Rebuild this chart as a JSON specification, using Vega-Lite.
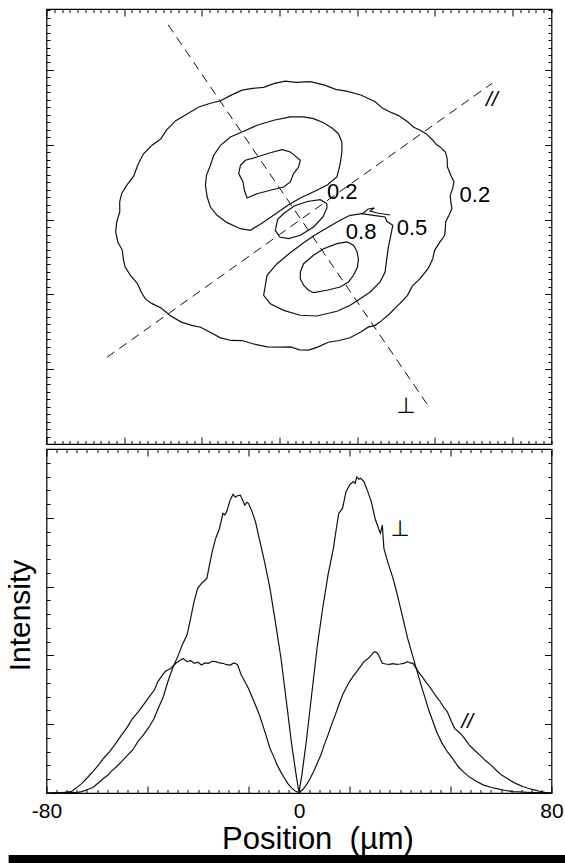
{
  "$schema": "https://vega.github.io/schema/vega-lite/v6.json",
  "padding": {"left": 4.5, "top": 7, "right": 0, "bottom": 0},
  "spacing": 1,
  "config": {
    "view": {"stroke": "black", "strokeWidth": 1.2},
    "font": "Liberation Sans",
    "axis": {"domain": false, "grid": false, "tickColor": "black", "tickWidth": 1, "labelColor": "black", "titleColor": "black", "titleFontWeight": "normal", "labelFont": "Liberation Sans", "titleFont": "Liberation Sans"}
  },
  "datasets": {
    "contours": [
      {"c":"outer","i":0,"X":321.1,"Y":483.4},{"c":"outer","i":1,"X":339.6,"Y":484.5},{"c":"outer","i":2,"X":358.2,"Y":479.8},{"c":"outer","i":3,"X":372.1,"Y":474.0},{"c":"outer","i":4,"X":386.0,"Y":471.8},{"c":"outer","i":5,"X":404.5,"Y":466.5},{"c":"outer","i":6,"X":423.0,"Y":457.5},{"c":"outer","i":7,"X":432.3,"Y":449.0},{"c":"outer","i":8,"X":441.6,"Y":444.1},{"c":"outer","i":9,"X":453.2,"Y":439.0},{"c":"outer","i":10,"X":464.7,"Y":430.7},{"c":"outer","i":11,"X":472.8,"Y":423.5},{"c":"outer","i":12,"X":480.9,"Y":419.5},{"c":"outer","i":13,"X":489.0,"Y":414.5},{"c":"outer","i":14,"X":497.2,"Y":406.1},{"c":"outer","i":15,"X":501.9,"Y":400.2},{"c":"outer","i":16,"X":506.5,"Y":397.2},{"c":"outer","i":17,"X":513.5,"Y":390.2},{"c":"outer","i":18,"X":515.7,"Y":381.7},{"c":"outer","i":19,"X":516.0,"Y":370.5},{"c":"outer","i":20,"X":520.4,"Y":359.4},{"c":"outer","i":21,"X":524.5,"Y":350.4},{"c":"outer","i":22,"X":522.7,"Y":341.4},{"c":"outer","i":23,"X":519.6,"Y":332.5},{"c":"outer","i":24,"X":520.4,"Y":323.7},{"c":"outer","i":25,"X":521.8,"Y":314.7},{"c":"outer","i":26,"X":518.0,"Y":305.7},{"c":"outer","i":27,"X":513.7,"Y":296.8},{"c":"outer","i":28,"X":513.4,"Y":288.0},{"c":"outer","i":29,"X":512.5,"Y":279.0},{"c":"outer","i":30,"X":506.5,"Y":270.1},{"c":"outer","i":31,"X":499.5,"Y":258.9},{"c":"outer","i":32,"X":497.2,"Y":247.7},{"c":"outer","i":33,"X":491.5,"Y":235.0},{"c":"outer","i":34,"X":480.9,"Y":221.0},{"c":"outer","i":35,"X":470.8,"Y":211.0},{"c":"outer","i":36,"X":464.7,"Y":198.7},{"c":"outer","i":37,"X":455.0,"Y":187.9},{"c":"outer","i":38,"X":441.6,"Y":174.1},{"c":"outer","i":39,"X":431.0,"Y":164.6},{"c":"outer","i":40,"X":423.0,"Y":158.6},{"c":"outer","i":41,"X":414.0,"Y":156.2},{"c":"outer","i":42,"X":404.5,"Y":149.6},{"c":"outer","i":43,"X":390.6,"Y":142.0},{"c":"outer","i":44,"X":376.7,"Y":138.4},{"c":"outer","i":45,"X":362.8,"Y":136.0},{"c":"outer","i":46,"X":348.9,"Y":129.5},{"c":"outer","i":47,"X":337.3,"Y":125.5},{"c":"outer","i":48,"X":325.8,"Y":125.9},{"c":"outer","i":49,"X":314.2,"Y":129.7},{"c":"outer","i":50,"X":302.6,"Y":129.5},{"c":"outer","i":51,"X":284.0,"Y":129.8},{"c":"outer","i":52,"X":265.5,"Y":134.0},{"c":"outer","i":53,"X":251.6,"Y":138.3},{"c":"outer","i":54,"X":237.8,"Y":138.4},{"c":"outer","i":55,"X":223.9,"Y":141.9},{"c":"outer","i":56,"X":210.0,"Y":149.6},{"c":"outer","i":57,"X":198.4,"Y":156.1},{"c":"outer","i":58,"X":186.8,"Y":158.6},{"c":"outer","i":59,"X":172.9,"Y":163.3},{"c":"outer","i":60,"X":159.0,"Y":171.9},{"c":"outer","i":61,"X":147.5,"Y":181.8},{"c":"outer","i":62,"X":135.9,"Y":187.6},{"c":"outer","i":63,"X":127.2,"Y":194.0},{"c":"outer","i":64,"X":121.9,"Y":203.1},{"c":"outer","i":65,"X":116.8,"Y":214.9},{"c":"outer","i":66,"X":108.0,"Y":225.4},{"c":"outer","i":67,"X":101.2,"Y":236.6},{"c":"outer","i":68,"X":98.8,"Y":247.7},{"c":"outer","i":69,"X":97.6,"Y":258.9},{"c":"outer","i":70,"X":91.8,"Y":270.1},{"c":"outer","i":71,"X":89.0,"Y":283.5},{"c":"outer","i":72,"X":90.4,"Y":296.8},{"c":"outer","i":73,"X":94.3,"Y":310.3},{"c":"outer","i":74,"X":94.2,"Y":323.7},{"c":"outer","i":75,"X":96.8,"Y":334.9},{"c":"outer","i":76,"X":103.4,"Y":346.0},{"c":"outer","i":77,"X":112.4,"Y":358.4},{"c":"outer","i":78,"X":117.3,"Y":372.7},{"c":"outer","i":79,"X":124.6,"Y":387.6},{"c":"outer","i":80,"X":135.9,"Y":399.5},{"c":"outer","i":81,"X":147.3,"Y":408.0},{"c":"outer","i":82,"X":154.4,"Y":419.5},{"c":"outer","i":83,"X":166.3,"Y":432.2},{"c":"outer","i":84,"X":182.1,"Y":441.8},{"c":"outer","i":85,"X":196.0,"Y":450.5},{"c":"outer","i":86,"X":210.0,"Y":455.2},{"c":"outer","i":87,"X":223.9,"Y":458.8},{"c":"outer","i":88,"X":237.8,"Y":466.4},{"c":"outer","i":89,"X":251.6,"Y":473.0},{"c":"outer","i":90,"X":265.5,"Y":475.4},{"c":"outer","i":91,"X":279.4,"Y":476.8},{"c":"outer","i":92,"X":293.4,"Y":482.1},{"c":"outer","i":93,"X":307.3,"Y":485.0},{"c":"outer","i":94,"X":321.1,"Y":483.4},
      {"c":"up5","i":0,"X":380.2,"Y":403.7},{"c":"up5","i":1,"X":375.8,"Y":414.8},{"c":"up5","i":2,"X":367.4,"Y":422.5},{"c":"up5","i":3,"X":356.6,"Y":429.5},{"c":"up5","i":4,"X":343.7,"Y":434.9},{"c":"up5","i":5,"X":330.9,"Y":437.2},{"c":"up5","i":6,"X":313.8,"Y":437.2},{"c":"up5","i":7,"X":292.4,"Y":432.8},{"c":"up5","i":8,"X":271.0,"Y":426.1},{"c":"up5","i":9,"X":253.8,"Y":418.0},{"c":"up5","i":10,"X":236.7,"Y":410.4},{"c":"up5","i":11,"X":223.9,"Y":399.3},{"c":"up5","i":12,"X":215.3,"Y":386.0},{"c":"up5","i":13,"X":211.0,"Y":372.6},{"c":"up5","i":14,"X":205.9,"Y":359.2},{"c":"up5","i":15,"X":204.6,"Y":345.9},{"c":"up5","i":16,"X":206.8,"Y":330.2},{"c":"up5","i":17,"X":211.0,"Y":316.8},{"c":"up5","i":18,"X":219.6,"Y":305.7},{"c":"up5","i":19,"X":232.5,"Y":295.9},{"c":"up5","i":20,"X":249.6,"Y":287.8},{"c":"up5","i":21,"X":262.4,"Y":285.7},{"c":"up5","i":22,"X":277.8,"Y":295.5},{"c":"up5","i":23,"X":294.5,"Y":307.5},{"c":"up5","i":24,"X":311.2,"Y":319.5},{"c":"up5","i":25,"X":326.7,"Y":328.9},{"c":"up5","i":26,"X":345.9,"Y":338.2},{"c":"up5","i":27,"X":361.3,"Y":346.3},{"c":"up5","i":28,"X":373.8,"Y":356.9},{"c":"up5","i":29,"X":378.0,"Y":374.3},{"c":"up5","i":30,"X":380.2,"Y":390.4},{"c":"up5","i":31,"X":380.2,"Y":403.7},
      {"c":"up8","i":0,"X":249.6,"Y":372.6},{"c":"up8","i":1,"X":256.0,"Y":379.3},{"c":"up8","i":2,"X":271.0,"Y":383.7},{"c":"up8","i":3,"X":288.1,"Y":389.4},{"c":"up8","i":4,"X":303.1,"Y":393.4},{"c":"up8","i":5,"X":313.8,"Y":390.4},{"c":"up8","i":6,"X":318.0,"Y":386.8},{"c":"up8","i":7,"X":326.7,"Y":379.3},{"c":"up8","i":8,"X":324.5,"Y":370.3},{"c":"up8","i":9,"X":318.0,"Y":361.4},{"c":"up8","i":10,"X":313.8,"Y":350.3},{"c":"up8","i":11,"X":305.2,"Y":343.6},{"c":"up8","i":12,"X":288.1,"Y":339.2},{"c":"up8","i":13,"X":271.0,"Y":334.6},{"c":"up8","i":14,"X":258.2,"Y":328.9},{"c":"up8","i":15,"X":254.7,"Y":339.2},{"c":"up8","i":16,"X":253.0,"Y":350.3},{"c":"up8","i":17,"X":247.4,"Y":361.4},{"c":"up8","i":18,"X":249.6,"Y":372.6},
      {"c":"core","i":0,"X":360.9,"Y":321.3},{"c":"core","i":1,"X":352.3,"Y":326.6},{"c":"core","i":2,"X":335.6,"Y":324.2},{"c":"core","i":3,"X":318.9,"Y":318.2},{"c":"core","i":4,"X":306.1,"Y":308.8},{"c":"core","i":5,"X":297.5,"Y":300.4},{"c":"core","i":6,"X":294.5,"Y":285.7},{"c":"core","i":7,"X":300.1,"Y":276.7},{"c":"core","i":8,"X":311.6,"Y":274.5},{"c":"core","i":9,"X":326.7,"Y":279.0},{"c":"core","i":10,"X":343.7,"Y":290.1},{"c":"core","i":11,"X":355.8,"Y":303.5},{"c":"core","i":12,"X":360.9,"Y":315.5},{"c":"core","i":13,"X":360.9,"Y":321.3},
      {"c":"low5","i":0,"X":390.9,"Y":305.7},{"c":"low5","i":1,"X":405.9,"Y":307.9},{"c":"low5","i":2,"X":420.8,"Y":305.7},{"c":"low5","i":3,"X":435.8,"Y":303.5},{"c":"low5","i":4,"X":438.0,"Y":297.7},{"c":"low5","i":5,"X":445.7,"Y":292.4},{"c":"low5","i":6,"X":443.2,"Y":279.0},{"c":"low5","i":7,"X":440.1,"Y":263.4},{"c":"low5","i":8,"X":438.0,"Y":247.7},{"c":"low5","i":9,"X":435.8,"Y":229.9},{"c":"low5","i":10,"X":429.4,"Y":216.6},{"c":"low5","i":11,"X":416.6,"Y":203.2},{"c":"low5","i":12,"X":403.7,"Y":194.3},{"c":"low5","i":13,"X":390.9,"Y":185.4},{"c":"low5","i":14,"X":373.8,"Y":177.4},{"c":"low5","i":15,"X":348.1,"Y":171.1},{"c":"low5","i":16,"X":326.7,"Y":172.1},{"c":"low5","i":17,"X":305.2,"Y":178.7},{"c":"low5","i":18,"X":288.1,"Y":187.6},{"c":"low5","i":19,"X":279.5,"Y":198.8},{"c":"low5","i":20,"X":281.7,"Y":212.2},{"c":"low5","i":21,"X":283.9,"Y":225.5},{"c":"low5","i":22,"X":296.7,"Y":241.0},{"c":"low5","i":23,"X":313.8,"Y":255.7},{"c":"low5","i":24,"X":330.9,"Y":269.1},{"c":"low5","i":25,"X":348.1,"Y":281.1},{"c":"low5","i":26,"X":365.2,"Y":291.4},{"c":"low5","i":27,"X":378.0,"Y":299.1},{"c":"low5","i":28,"X":390.9,"Y":305.7},
      {"c":"low8","i":0,"X":326.7,"Y":229.9},{"c":"low8","i":1,"X":330.9,"Y":241.0},{"c":"low8","i":2,"X":343.7,"Y":252.3},{"c":"low8","i":3,"X":356.6,"Y":261.1},{"c":"low8","i":4,"X":373.8,"Y":267.8},{"c":"low8","i":5,"X":386.6,"Y":270.1},{"c":"low8","i":6,"X":395.1,"Y":265.6},{"c":"low8","i":7,"X":399.5,"Y":257.6},{"c":"low8","i":8,"X":401.5,"Y":247.7},{"c":"low8","i":9,"X":400.3,"Y":236.6},{"c":"low8","i":10,"X":395.1,"Y":225.5},{"c":"low8","i":11,"X":388.7,"Y":216.6},{"c":"low8","i":12,"X":378.0,"Y":209.9},{"c":"low8","i":13,"X":360.9,"Y":205.5},{"c":"low8","i":14,"X":343.7,"Y":202.3},{"c":"low8","i":15,"X":337.3,"Y":205.5},{"c":"low8","i":16,"X":330.9,"Y":212.2},{"c":"low8","i":17,"X":326.7,"Y":221.0},{"c":"low8","i":18,"X":326.7,"Y":229.9},
      {"c":"sq","i":0,"X":406.3,"Y":307.5},{"c":"sq","i":1,"X":414.0,"Y":314.2},{"c":"sq","i":2,"X":421.7,"Y":315.5},{"c":"sq","i":3,"X":416.6,"Y":311.5},{"c":"sq","i":4,"X":425.6,"Y":308.8},{"c":"sq","i":5,"X":442.3,"Y":306.1}
    ],
    "axes2d": [
      {"d":"perp","X":156.7,"Y":560.2},{"d":"perp","X":492.5,"Y":49.2},
      {"d":"par","X":78.0,"Y":116.0},{"d":"par","X":573.5,"Y":482.1}
    ],
    "levels": [
      {"t":"0.2","X":551.4,"Y":332.9},{"t":"0.2","X":380.6,"Y":336.9},{"t":"0.8","X":405.0,"Y":283.4},{"t":"0.5","X":470.5,"Y":288.8}
    ],
    "profiles": [
      {"s":"perp","i":0,"x":-80,"v":0},{"s":"perp","i":1,"x":-76,"v":0.001},{"s":"perp","i":2,"x":-72,"v":0.002},{"s":"perp","i":3,"x":-70.5,"v":0.001},{"s":"perp","i":4,"x":-68.8,"v":0.004},{"s":"perp","i":5,"x":-67,"v":0.01},{"s":"perp","i":6,"x":-65.3,"v":0.016},{"s":"perp","i":7,"x":-63.5,"v":0.03},{"s":"perp","i":8,"x":-61.9,"v":0.043},{"s":"perp","i":9,"x":-60.5,"v":0.052},{"s":"perp","i":10,"x":-59.6,"v":0.062},{"s":"perp","i":11,"x":-58,"v":0.075},{"s":"perp","i":12,"x":-56.2,"v":0.091},{"s":"perp","i":13,"x":-54.5,"v":0.108},{"s":"perp","i":14,"x":-52.7,"v":0.125},{"s":"perp","i":15,"x":-51,"v":0.15},{"s":"perp","i":16,"x":-49.3,"v":0.169},{"s":"perp","i":17,"x":-47.5,"v":0.192},{"s":"perp","i":18,"x":-46,"v":0.215},{"s":"perp","i":19,"x":-44.5,"v":0.248},{"s":"perp","i":20,"x":-43,"v":0.28},{"s":"perp","i":21,"x":-41.5,"v":0.325},{"s":"perp","i":22,"x":-40.1,"v":0.362},{"s":"perp","i":23,"x":-38.5,"v":0.395},{"s":"perp","i":24,"x":-37,"v":0.43},{"s":"perp","i":25,"x":-35.5,"v":0.459},{"s":"perp","i":26,"x":-34.5,"v":0.5},{"s":"perp","i":27,"x":-33.3,"v":0.555},{"s":"perp","i":28,"x":-32.1,"v":0.595},{"s":"perp","i":29,"x":-30.9,"v":0.609},{"s":"perp","i":30,"x":-29.2,"v":0.624},{"s":"perp","i":31,"x":-28.3,"v":0.665},{"s":"perp","i":32,"x":-27.5,"v":0.702},{"s":"perp","i":33,"x":-26.4,"v":0.74},{"s":"perp","i":34,"x":-25.2,"v":0.769},{"s":"perp","i":35,"x":-24.1,"v":0.813},{"s":"perp","i":36,"x":-23.5,"v":0.808},{"s":"perp","i":37,"x":-22.9,"v":0.818},{"s":"perp","i":38,"x":-21.8,"v":0.852},{"s":"perp","i":39,"x":-20.9,"v":0.868},{"s":"perp","i":40,"x":-20.2,"v":0.86},{"s":"perp","i":41,"x":-19.5,"v":0.864},{"s":"perp","i":42,"x":-18.6,"v":0.866},{"s":"perp","i":43,"x":-17.8,"v":0.85},{"s":"perp","i":44,"x":-17.2,"v":0.837},{"s":"perp","i":45,"x":-16.5,"v":0.845},{"s":"perp","i":46,"x":-16,"v":0.842},{"s":"perp","i":47,"x":-14.9,"v":0.818},{"s":"perp","i":48,"x":-13.8,"v":0.789},{"s":"perp","i":49,"x":-12.6,"v":0.74},{"s":"perp","i":50,"x":-10.9,"v":0.672},{"s":"perp","i":51,"x":-9.2,"v":0.595},{"s":"perp","i":52,"x":-7.5,"v":0.498},{"s":"perp","i":53,"x":-5.7,"v":0.391},{"s":"perp","i":54,"x":-4,"v":0.266},{"s":"perp","i":55,"x":-2.3,"v":0.14},{"s":"perp","i":56,"x":-0.9,"v":0.052},{"s":"perp","i":57,"x":0,"v":0.002},{"s":"perp","i":58,"x":0.9,"v":0.052},{"s":"perp","i":59,"x":2.3,"v":0.149},{"s":"perp","i":60,"x":4,"v":0.285},{"s":"perp","i":61,"x":5.7,"v":0.42},{"s":"perp","i":62,"x":7.5,"v":0.537},{"s":"perp","i":63,"x":9.2,"v":0.634},{"s":"perp","i":64,"x":10.9,"v":0.711},{"s":"perp","i":65,"x":12,"v":0.779},{"s":"perp","i":66,"x":12.6,"v":0.813},{"s":"perp","i":67,"x":13.8,"v":0.828},{"s":"perp","i":68,"x":14.9,"v":0.876},{"s":"perp","i":69,"x":16,"v":0.895},{"s":"perp","i":70,"x":17.2,"v":0.905},{"s":"perp","i":71,"x":17.8,"v":0.9},{"s":"perp","i":72,"x":18.3,"v":0.919},{"s":"perp","i":73,"x":19,"v":0.912},{"s":"perp","i":74,"x":19.5,"v":0.915},{"s":"perp","i":75,"x":20.6,"v":0.905},{"s":"perp","i":76,"x":21.8,"v":0.876},{"s":"perp","i":77,"x":22.9,"v":0.847},{"s":"perp","i":78,"x":24.1,"v":0.798},{"s":"perp","i":79,"x":25.2,"v":0.769},{"s":"perp","i":80,"x":25.8,"v":0.755},{"s":"perp","i":81,"x":26.4,"v":0.779},{"s":"perp","i":82,"x":26.9,"v":0.711},{"s":"perp","i":83,"x":28.1,"v":0.672},{"s":"perp","i":84,"x":29.8,"v":0.624},{"s":"perp","i":85,"x":30.9,"v":0.585},{"s":"perp","i":86,"x":32.7,"v":0.517},{"s":"perp","i":87,"x":34.4,"v":0.45},{"s":"perp","i":88,"x":36.7,"v":0.377},{"s":"perp","i":89,"x":39,"v":0.304},{"s":"perp","i":90,"x":41.3,"v":0.236},{"s":"perp","i":91,"x":43.6,"v":0.178},{"s":"perp","i":92,"x":45.3,"v":0.145},{"s":"perp","i":93,"x":47,"v":0.12},{"s":"perp","i":94,"x":48.7,"v":0.1},{"s":"perp","i":95,"x":50.4,"v":0.077},{"s":"perp","i":96,"x":52,"v":0.062},{"s":"perp","i":97,"x":53.9,"v":0.047},{"s":"perp","i":98,"x":56,"v":0.035},{"s":"perp","i":99,"x":58.5,"v":0.023},{"s":"perp","i":100,"x":61,"v":0.016},{"s":"perp","i":101,"x":63,"v":0.012},{"s":"perp","i":102,"x":65,"v":0.008},{"s":"perp","i":103,"x":67.6,"v":0.004},{"s":"perp","i":104,"x":70,"v":0.003},{"s":"perp","i":105,"x":72.2,"v":0.002},{"s":"perp","i":106,"x":76,"v":0.001},{"s":"perp","i":107,"x":80,"v":0},
      {"s":"par","i":0,"x":-80,"v":0},{"s":"par","i":1,"x":-76,"v":0.001},{"s":"par","i":2,"x":-74.5,"v":0.001},{"s":"par","i":3,"x":-72.2,"v":0.004},{"s":"par","i":4,"x":-70.5,"v":0.015},{"s":"par","i":5,"x":-68.8,"v":0.028},{"s":"par","i":6,"x":-67,"v":0.045},{"s":"par","i":7,"x":-65.3,"v":0.062},{"s":"par","i":8,"x":-63.5,"v":0.082},{"s":"par","i":9,"x":-61.9,"v":0.101},{"s":"par","i":10,"x":-60,"v":0.12},{"s":"par","i":11,"x":-58,"v":0.145},{"s":"par","i":12,"x":-56.2,"v":0.169},{"s":"par","i":13,"x":-54.5,"v":0.19},{"s":"par","i":14,"x":-52.7,"v":0.217},{"s":"par","i":15,"x":-51,"v":0.235},{"s":"par","i":16,"x":-49.3,"v":0.256},{"s":"par","i":17,"x":-47,"v":0.285},{"s":"par","i":18,"x":-45.8,"v":0.3},{"s":"par","i":19,"x":-44.7,"v":0.324},{"s":"par","i":20,"x":-43.5,"v":0.34},{"s":"par","i":21,"x":-42.4,"v":0.353},{"s":"par","i":22,"x":-40.7,"v":0.362},{"s":"par","i":23,"x":-39,"v":0.377},{"s":"par","i":24,"x":-37.8,"v":0.385},{"s":"par","i":25,"x":-36.7,"v":0.391},{"s":"par","i":26,"x":-35.5,"v":0.382},{"s":"par","i":27,"x":-34.3,"v":0.385},{"s":"par","i":28,"x":-33.2,"v":0.377},{"s":"par","i":29,"x":-32,"v":0.38},{"s":"par","i":30,"x":-30.9,"v":0.372},{"s":"par","i":31,"x":-29.8,"v":0.378},{"s":"par","i":32,"x":-28.7,"v":0.377},{"s":"par","i":33,"x":-27.5,"v":0.383},{"s":"par","i":34,"x":-26.4,"v":0.382},{"s":"par","i":35,"x":-25.2,"v":0.378},{"s":"par","i":36,"x":-24.1,"v":0.377},{"s":"par","i":37,"x":-23,"v":0.373},{"s":"par","i":38,"x":-21.8,"v":0.372},{"s":"par","i":39,"x":-20.6,"v":0.378},{"s":"par","i":40,"x":-19.5,"v":0.374},{"s":"par","i":41,"x":-18.3,"v":0.343},{"s":"par","i":42,"x":-17.2,"v":0.325},{"s":"par","i":43,"x":-16,"v":0.304},{"s":"par","i":44,"x":-14.9,"v":0.28},{"s":"par","i":45,"x":-13.8,"v":0.256},{"s":"par","i":46,"x":-12.6,"v":0.228},{"s":"par","i":47,"x":-11.5,"v":0.198},{"s":"par","i":48,"x":-10.3,"v":0.163},{"s":"par","i":49,"x":-9.2,"v":0.13},{"s":"par","i":50,"x":-8,"v":0.105},{"s":"par","i":51,"x":-6.9,"v":0.081},{"s":"par","i":52,"x":-5.7,"v":0.06},{"s":"par","i":53,"x":-4.6,"v":0.043},{"s":"par","i":54,"x":-3.4,"v":0.026},{"s":"par","i":55,"x":-2.3,"v":0.014},{"s":"par","i":56,"x":-1.2,"v":0.006},{"s":"par","i":57,"x":0,"v":0.001},{"s":"par","i":58,"x":1.2,"v":0.01},{"s":"par","i":59,"x":2.3,"v":0.023},{"s":"par","i":60,"x":3.4,"v":0.04},{"s":"par","i":61,"x":4.6,"v":0.062},{"s":"par","i":62,"x":5.7,"v":0.085},{"s":"par","i":63,"x":6.9,"v":0.11},{"s":"par","i":64,"x":8,"v":0.14},{"s":"par","i":65,"x":9.2,"v":0.169},{"s":"par","i":66,"x":10.3,"v":0.198},{"s":"par","i":67,"x":11.5,"v":0.227},{"s":"par","i":68,"x":12.6,"v":0.256},{"s":"par","i":69,"x":13.8,"v":0.285},{"s":"par","i":70,"x":14.9,"v":0.305},{"s":"par","i":71,"x":16,"v":0.324},{"s":"par","i":72,"x":17.2,"v":0.34},{"s":"par","i":73,"x":18.3,"v":0.353},{"s":"par","i":74,"x":19.5,"v":0.368},{"s":"par","i":75,"x":20.6,"v":0.382},{"s":"par","i":76,"x":21.8,"v":0.39},{"s":"par","i":77,"x":22.9,"v":0.401},{"s":"par","i":78,"x":23.5,"v":0.408},{"s":"par","i":79,"x":24.1,"v":0.411},{"s":"par","i":80,"x":24.7,"v":0.408},{"s":"par","i":81,"x":25.2,"v":0.401},{"s":"par","i":82,"x":26.4,"v":0.377},{"s":"par","i":83,"x":27.5,"v":0.375},{"s":"par","i":84,"x":28.7,"v":0.374},{"s":"par","i":85,"x":29.8,"v":0.376},{"s":"par","i":86,"x":30.9,"v":0.374},{"s":"par","i":87,"x":32,"v":0.375},{"s":"par","i":88,"x":33.2,"v":0.377},{"s":"par","i":89,"x":34.4,"v":0.382},{"s":"par","i":90,"x":35.2,"v":0.378},{"s":"par","i":91,"x":36.1,"v":0.377},{"s":"par","i":92,"x":37.8,"v":0.353},{"s":"par","i":93,"x":39,"v":0.338},{"s":"par","i":94,"x":40.1,"v":0.324},{"s":"par","i":95,"x":41.3,"v":0.31},{"s":"par","i":96,"x":42.4,"v":0.295},{"s":"par","i":97,"x":43.5,"v":0.28},{"s":"par","i":98,"x":44.7,"v":0.266},{"s":"par","i":99,"x":45.8,"v":0.25},{"s":"par","i":100,"x":47,"v":0.236},{"s":"par","i":101,"x":48.2,"v":0.21},{"s":"par","i":102,"x":49.3,"v":0.188},{"s":"par","i":103,"x":50.5,"v":0.178},{"s":"par","i":104,"x":51.6,"v":0.169},{"s":"par","i":105,"x":52.7,"v":0.155},{"s":"par","i":106,"x":53.9,"v":0.14},{"s":"par","i":107,"x":55.5,"v":0.125},{"s":"par","i":108,"x":57.3,"v":0.11},{"s":"par","i":109,"x":59,"v":0.095},{"s":"par","i":110,"x":60.8,"v":0.081},{"s":"par","i":111,"x":62.5,"v":0.066},{"s":"par","i":112,"x":64.2,"v":0.052},{"s":"par","i":113,"x":66,"v":0.042},{"s":"par","i":114,"x":67.6,"v":0.033},{"s":"par","i":115,"x":69.3,"v":0.025},{"s":"par","i":116,"x":71.1,"v":0.018},{"s":"par","i":117,"x":72.8,"v":0.013},{"s":"par","i":118,"x":74.5,"v":0.009},{"s":"par","i":119,"x":76.2,"v":0.005},{"s":"par","i":120,"x":77.9,"v":0.002},{"s":"par","i":121,"x":80,"v":0}
    ]
  },
  "vconcat": [
    {
      "width": 505,
      "height": 435,
      "layer": [
        {
          "data": {"name": "contours"},
          "mark": {"type": "line", "color": "#111", "strokeWidth": 1.2},
          "encoding": {
            "x": {"field": "X", "type": "quantitative", "scale": {"domain": [0, 650], "nice": false, "zero": false},
              "axis": {"orient": "bottom", "title": null, "labels": false, "values": [0,10,20,30,40,50,60,70,80,90,100,110,120,130,140,150,160,170,180,190,200,210,220,230,240,250,260,270,280,290,300,310,320,330,340,350,360,370,380,390,400,410,420,430,440,450,460,470,480,490,500,510,520,530,540,550,560,570,580,590,600,610,620,630,640,650],
                "tickSize": {"condition": {"test": "datum.value % 100 === 0", "value": -7}, "value": -3.5}}},
            "y": {"field": "Y", "type": "quantitative", "scale": {"domain": [0, 581.5], "nice": false, "zero": false},
              "axis": {"orient": "left", "title": null, "labels": false, "values": [0,10,20,30,40,50,60,70,80,90,100,110,120,130,140,150,160,170,180,190,200,210,220,230,240,250,260,270,280,290,300,310,320,330,340,350,360,370,380,390,400,410,420,430,440,450,460,470,480,490,500,510,520,530,540,550,560,570,580],
                "tickSize": {"condition": {"test": "datum.value % 100 === 0", "value": -7}, "value": -3.5}}},
            "detail": {"field": "c"},
            "order": {"field": "i", "type": "quantitative"}
          }
        },
        {
          "data": {"name": "axes2d"},
          "mark": {"type": "line", "color": "#111", "strokeWidth": 1, "strokeDash": [9, 6]},
          "encoding": {
            "x": {"field": "X", "type": "quantitative",
              "axis": {"orient": "top", "title": null, "labels": false, "values": [0,10,20,30,40,50,60,70,80,90,100,110,120,130,140,150,160,170,180,190,200,210,220,230,240,250,260,270,280,290,300,310,320,330,340,350,360,370,380,390,400,410,420,430,440,450,460,470,480,490,500,510,520,530,540,550,560,570,580,590,600,610,620,630,640,650],
                "tickSize": {"condition": {"test": "datum.value % 100 === 0", "value": -7}, "value": -3.5}}},
            "y": {"field": "Y", "type": "quantitative",
              "axis": {"orient": "right", "title": null, "labels": false, "values": [0,10,20,30,40,50,60,70,80,90,100,110,120,130,140,150,160,170,180,190,200,210,220,230,240,250,260,270,280,290,300,310,320,330,340,350,360,370,380,390,400,410,420,430,440,450,460,470,480,490,500,510,520,530,540,550,560,570,580],
                "tickSize": {"condition": {"test": "datum.value % 100 === 0", "value": -7}, "value": -3.5}}},
            "detail": {"field": "d"}
          }
        },
        {
          "data": {"name": "levels"},
          "mark": {"type": "text", "font": "Liberation Sans", "fontSize": 22, "color": "black", "align": "center", "baseline": "middle"},
          "encoding": {
            "x": {"field": "X", "type": "quantitative", "axis": null},
            "y": {"field": "Y", "type": "quantitative", "axis": null},
            "text": {"field": "t"}
          }
        },
        {
          "data": {"values": [{"t": "⊥", "X": 462.8, "Y": 50.8}]},
          "mark": {"type": "text", "font": "DejaVu Sans", "fontSize": 22, "color": "black", "align": "center", "baseline": "middle"},
          "encoding": {
            "x": {"field": "X", "type": "quantitative", "axis": null},
            "y": {"field": "Y", "type": "quantitative", "axis": null},
            "text": {"field": "t"}
          }
        },
        {
          "data": {"values": [{"t": "//", "X": 573.3, "Y": 459.9}]},
          "mark": {"type": "text", "font": "Liberation Sans", "fontSize": 21, "fontStyle": "italic", "color": "black", "align": "center", "baseline": "middle"},
          "encoding": {
            "x": {"field": "X", "type": "quantitative", "axis": null},
            "y": {"field": "Y", "type": "quantitative", "axis": null},
            "text": {"field": "t"}
          }
        }
      ],
      "resolve": {"axis": {"x": "independent", "y": "independent"}}
    },
    {
      "width": 505,
      "height": 344,
      "layer": [
        {
          "data": {"name": "profiles"},
          "mark": {"type": "line", "color": "#111", "strokeWidth": 1.2},
          "encoding": {
            "x": {"field": "x", "type": "quantitative", "scale": {"domain": [-80, 80], "nice": false, "zero": false},
              "axis": {"orient": "bottom", "title": "Position\u00a0\u00a0(µm)", "titleFontSize": 31, "titleX": 271, "titleY": 55, "titleAlign": "center", "titleBaseline": "alphabetic", "titleAnchor": null,
                "values": [-80,-76.8,-73.6,-70.4,-67.2,-64,-60.8,-57.6,-54.4,-51.2,-48,-44.8,-41.6,-38.4,-35.2,-32,-28.8,-25.6,-22.4,-19.2,-16,-12.8,-9.6,-6.4,-3.2,0,3.2,6.4,9.6,12.8,16,19.2,22.4,25.6,28.8,32,35.2,38.4,41.6,44.8,48,51.2,54.4,57.6,60.8,64,67.2,70.4,73.6,76.8,80],
                "labelExpr": "datum.value === -80 ? '-80' : (datum.value === 0 ? '0' : (datum.value === 80 ? '80' : ''))",
                "labelFontSize": 21, "labelBaseline": "alphabetic", "labelFlush": false, "labelOverlap": false, "labelBound": false,
                "tickSize": {"condition": {"test": "abs((datum.value + 80) / 32 - round((datum.value + 80) / 32)) < 0.01", "value": -7}, "value": -3.5},
                "labelPadding": {"condition": {"test": "abs((datum.value + 80) / 32 - round((datum.value + 80) / 32)) < 0.01", "value": 31}, "value": 27.5}}},
            "y": {"field": "v", "type": "quantitative", "scale": {"domain": [0, 1], "nice": false, "zero": false},
              "axis": {"orient": "left", "title": "Intensity", "titleFontSize": 30, "titleAngle": 270, "titleX": -17, "titleY": 166, "titleAlign": "center", "titleBaseline": "alphabetic", "titleAnchor": null, "labels": false,
                "values": [0,0.04,0.08,0.12,0.16,0.2,0.24,0.28,0.32,0.36,0.4,0.44,0.48,0.52,0.56,0.6,0.64,0.68,0.72,0.76,0.8,0.84,0.88,0.92,0.96,1],
                "tickSize": {"condition": {"test": "abs(datum.value * 5 - round(datum.value * 5)) < 0.01", "value": -7}, "value": -3.5}}},
            "detail": {"field": "s"},
            "order": {"field": "i", "type": "quantitative"}
          }
        },
        {
          "data": {"values": [{"t": "⊥", "x": 32.0, "v": 0.767}]},
          "mark": {"type": "text", "font": "DejaVu Sans", "fontSize": 22, "color": "black", "align": "center", "baseline": "middle"},
          "encoding": {
            "x": {"field": "x", "type": "quantitative",
              "axis": {"orient": "top", "title": null, "labels": false,
                "values": [-80,-76.8,-73.6,-70.4,-67.2,-64,-60.8,-57.6,-54.4,-51.2,-48,-44.8,-41.6,-38.4,-35.2,-32,-28.8,-25.6,-22.4,-19.2,-16,-12.8,-9.6,-6.4,-3.2,0,3.2,6.4,9.6,12.8,16,19.2,22.4,25.6,28.8,32,35.2,38.4,41.6,44.8,48,51.2,54.4,57.6,60.8,64,67.2,70.4,73.6,76.8,80],
                "tickSize": {"condition": {"test": "abs((datum.value + 80) / 32 - round((datum.value + 80) / 32)) < 0.01", "value": -7}, "value": -3.5}}},
            "y": {"field": "v", "type": "quantitative",
              "axis": {"orient": "right", "title": null, "labels": false,
                "values": [0,0.04,0.08,0.12,0.16,0.2,0.24,0.28,0.32,0.36,0.4,0.44,0.48,0.52,0.56,0.6,0.64,0.68,0.72,0.76,0.8,0.84,0.88,0.92,0.96,1],
                "tickSize": {"condition": {"test": "abs(datum.value * 5 - round(datum.value * 5)) < 0.01", "value": -7}, "value": -3.5}}},
            "text": {"field": "t"}
          }
        },
        {
          "data": {"values": [{"t": "//", "x": 53.3, "v": 0.206}]},
          "mark": {"type": "text", "font": "Liberation Sans", "fontSize": 21, "fontStyle": "italic", "color": "black", "align": "center", "baseline": "middle"},
          "encoding": {
            "x": {"field": "x", "type": "quantitative", "axis": null},
            "y": {"field": "v", "type": "quantitative", "axis": null},
            "text": {"field": "t"}
          }
        },
        {
          "data": {"values": [{"x0": -92, "x1": 84.5, "y0": -0.1802, "y1": -0.2035}]},
          "mark": {"type": "rect", "color": "black", "clip": false},
          "encoding": {
            "x": {"field": "x0", "type": "quantitative", "axis": null},
            "x2": {"field": "x1"},
            "y": {"field": "y0", "type": "quantitative", "axis": null},
            "y2": {"field": "y1"}
          }
        }
      ],
      "resolve": {"axis": {"x": "independent", "y": "independent"}}
    }
  ]
}
